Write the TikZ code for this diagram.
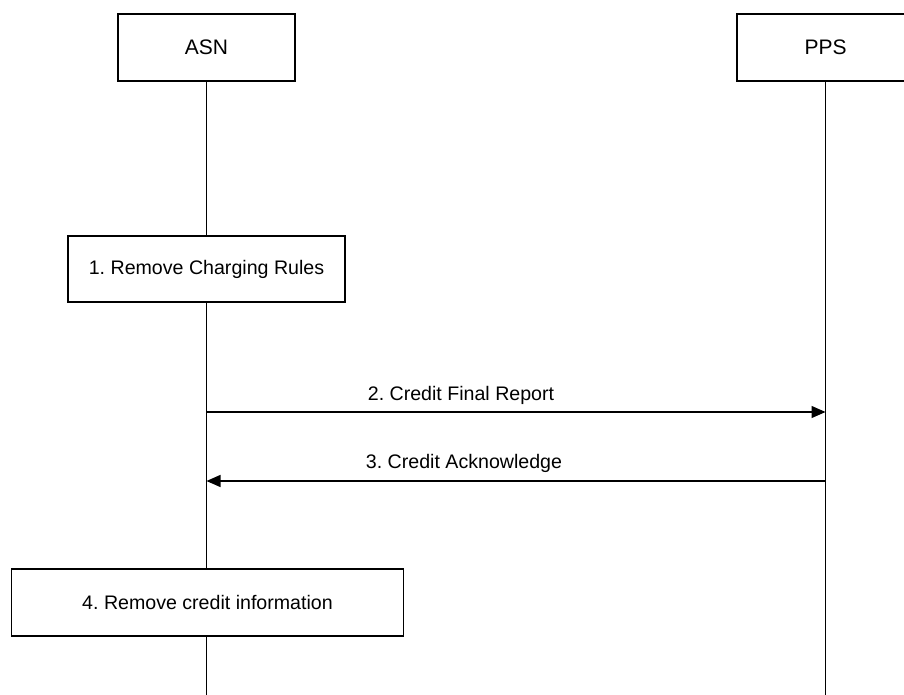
\documentclass[tikz,border=0pt]{standalone}
\usepackage{fontspec}
\setmainfont{Liberation Sans}
\usetikzlibrary{arrows.meta}
\begin{document}
\frenchspacing
\begin{tikzpicture}[x=1pt,y=-1pt,
  line width=1.3pt,
  entity/.style={draw,minimum width=177pt,minimum height=67pt,inner sep=0pt,font=\fontsize{21}{25}\selectfont},
  actionbox/.style={draw,inner sep=0pt,font=\fontsize{19.6}{23}\selectfont},
  msglabel/.style={font=\fontsize{19.6}{23}\selectfont,inner sep=0pt},
  msg/.style={-{Triangle[length=14pt,width=12pt]}}]
\useasboundingbox (0,0) rectangle (904,695);
% participants
\node[entity] (asn) at (206.5,47.5) {ASN};
\node[entity] (pps) at (825.5,47.5) {PPS};
% lifeline ends
\coordinate (asnend) at (206.5,695);
\coordinate (ppsend) at (825.5,695);
% local actions
\node[actionbox,minimum width=277pt,minimum height=66pt] (rules) at (206.5,269) {1. Remove Charging Rules};
\node[actionbox,minimum width=392pt,minimum height=67pt] (credit) at (207.5,602.5) {4. Remove credit information};
% lifelines
\draw (asn.south) -- (rules.north);
\draw (rules.south) -- (credit.north -| rules.south);
\draw (credit.south -| asnend) -- (asnend);
\draw (pps.south) -- (ppsend);
% messages
\coordinate (m2a) at (206.5,412);
\coordinate (m2b) at (825.5,412);
\coordinate (m3a) at (825.5,481);
\coordinate (m3b) at (206.5,481);
\draw[msg] (m2a) -- (m2b);
\draw[msg] (m3a) -- (m3b);
\node[msglabel] (l2) at (461,395) {2. Credit Final Report};
\node[msglabel] (l3) at (464,463) {3. Credit Acknowledge};
\end{tikzpicture}
\end{document}
